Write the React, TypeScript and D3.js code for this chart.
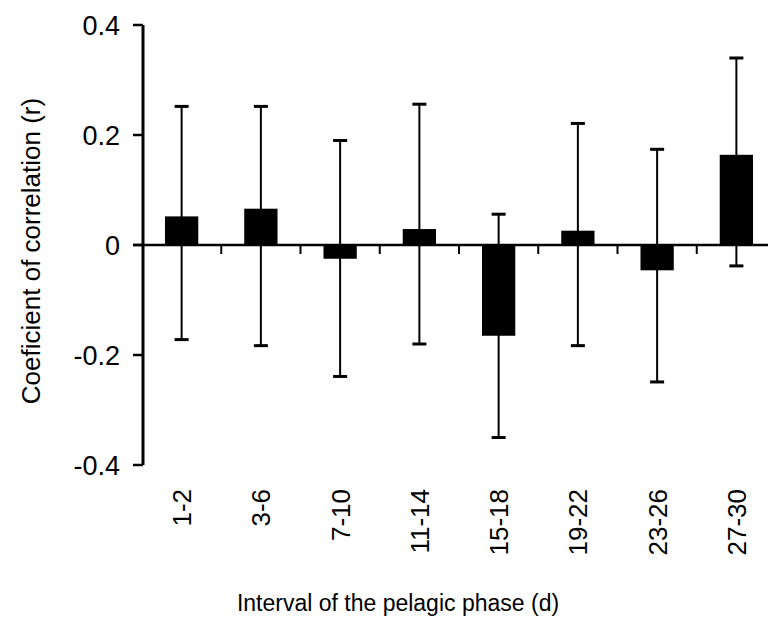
import React from "react";
import * as d3 from "d3";

const categories = ["1-2", "3-6", "7-10", "11-14", "15-18", "19-22", "23-26", "27-30"];
const values = [0.052, 0.066, -0.025, 0.029, -0.165, 0.026, -0.046, 0.164];
const upperLimits = [0.252, 0.252, 0.19, 0.256, 0.056, 0.221, 0.174, 0.34];
const lowerLimits = [-0.172, -0.183, -0.239, -0.18, -0.35, -0.183, -0.249, -0.038];
const yTicks = [-0.4, -0.2, 0, 0.2, 0.4];
const yTickLabels = ["-0.4", "-0.2", "0", "0.2", "0.4"];
const xTitle = "Interval of the pelagic phase (d)";
const yTitle = "Coeficient of correlation (r)";

const W = 768;
const H = 624;
const FONT = "'Liberation Sans', Arial, sans-serif";

export default function App() {
  const axisX = 143;
  const y = d3.scaleLinear().domain([-0.4, 0.4]).range([465, 25]);
  const x = d3.scaleBand<string>().domain(categories).range([142, 776]).paddingInner(0.58).paddingOuter(0.29);
  const step = x.step();
  const y0 = y(0);
  const capW = 14;

  return (
    <svg width={W} height={H} style={{ position: "absolute", left: 0, top: 0, background: "#fff" }}>
      {/* bars */}
      {categories.map((c, i) => {
        const v = values[i];
        return (
          <rect
            key={"b" + c}
            x={x(c)!}
            width={x.bandwidth()}
            y={Math.min(y(v), y0)}
            height={Math.abs(y(v) - y0)}
            fill="#000"
          />
        );
      })}
      {/* error bars */}
      {categories.map((c, i) => {
        const cx = x(c)! + x.bandwidth() / 2;
        return (
          <g key={"e" + c} stroke="#000">
            <line x1={cx} x2={cx} y1={y(upperLimits[i])} y2={y(lowerLimits[i])} strokeWidth={2} />
            <line x1={cx - capW / 2} x2={cx + capW / 2} y1={y(upperLimits[i])} y2={y(upperLimits[i])} strokeWidth={3} />
            <line x1={cx - capW / 2} x2={cx + capW / 2} y1={y(lowerLimits[i])} y2={y(lowerLimits[i])} strokeWidth={3} />
          </g>
        );
      })}
      {/* y axis */}
      <line x1={axisX} x2={axisX} y1={y(0.4)} y2={y(-0.4)} stroke="#000" strokeWidth={3} />
      {yTicks.map((t, i) => (
        <g key={"yt" + t}>
          <line x1={axisX - 10} x2={axisX} y1={y(t)} y2={y(t)} stroke="#000" strokeWidth={2.5} />
          <text
            x={120}
            y={y(t)}
            dy="0.36em"
            textAnchor="end"
            fontFamily={FONT}
            fontSize={27}
            fill="#000"
          >
            {yTickLabels[i]}
          </text>
        </g>
      ))}
      {/* x axis at zero */}
      <line x1={axisX - 10} x2={W} y1={y0} y2={y0} stroke="#000" strokeWidth={2.5} />
      {categories.map((c, i) => {
        const bx = 142 + step * (i + 1);
        return <line key={"xt" + c} x1={bx} x2={bx} y1={y0} y2={y0 + 9} stroke="#000" strokeWidth={2} />;
      })}
      {/* x tick labels */}
      {categories.map((c) => {
        const cx = x(c)! + x.bandwidth() / 2;
        return (
          <text
            key={"xl" + c}
            transform={`translate(${cx},489) rotate(-90)`}
            dy="0.36em"
            textAnchor="end"
            fontFamily={FONT}
            fontSize={26}
            fill="#000"
          >
            {c}
          </text>
        );
      })}
      {/* titles */}
      <text x={398} y={611} textAnchor="middle" fontFamily={FONT} fontSize={23} fill="#000">
        {xTitle}
      </text>
      <text
        transform={`translate(40,251) rotate(-90)`}
        textAnchor="middle"
        fontFamily={FONT}
        fontSize={26}
        fill="#000"
      >
        {yTitle}
      </text>
    </svg>
  );
}
